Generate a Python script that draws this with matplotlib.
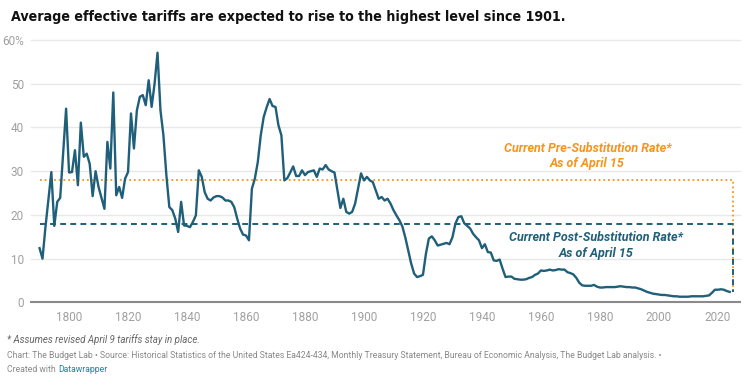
import matplotlib
matplotlib.use("Agg")
import matplotlib.pyplot as plt

plt.rcParams['font.family'] = ['Roboto', 'DejaVu Sans']

years = [1790, 1791, 1792, 1794, 1795, 1796, 1797, 1799, 1800, 1801, 1802, 1803, 1804, 1805,
         1806, 1807, 1808, 1809, 1810, 1812, 1813, 1814, 1815, 1816, 1817, 1818, 1819, 1820,
         1821, 1822, 1823, 1824, 1825, 1826, 1827, 1828, 1829, 1830, 1831, 1832, 1833, 1834,
         1835, 1836, 1837, 1838, 1839, 1840, 1841, 1842, 1843, 1844, 1845, 1846, 1847, 1848,
         1849, 1850, 1851, 1852, 1853, 1854, 1855, 1856, 1857, 1858, 1859, 1860, 1861, 1862,
         1863, 1864, 1865, 1866, 1867, 1868, 1869, 1870, 1871, 1872, 1873, 1874, 1875, 1876,
         1877, 1878, 1879, 1880, 1881, 1882, 1883, 1884, 1885, 1886, 1887, 1888, 1889, 1890,
         1891, 1892, 1893, 1894, 1895, 1896, 1897, 1898, 1899, 1900, 1901, 1902, 1903, 1904,
         1905, 1906, 1907, 1908, 1909, 1910, 1911, 1912, 1913, 1914, 1915, 1916, 1917, 1918,
         1919, 1920, 1921, 1922, 1923, 1924, 1925, 1926, 1927, 1928, 1929, 1930, 1931, 1932,
         1933, 1934, 1935, 1936, 1937, 1938, 1939, 1940, 1941, 1942, 1943, 1944, 1945, 1946,
         1947, 1948, 1949, 1950, 1951, 1952, 1953, 1954, 1955, 1956, 1957, 1958, 1959, 1960,
         1961, 1962, 1963, 1964, 1965, 1966, 1967, 1968, 1969, 1970, 1971, 1972, 1973, 1974,
         1975, 1976, 1977, 1978, 1979, 1980, 1981, 1982, 1983, 1984, 1985, 1986, 1987, 1988,
         1989, 1990, 1991, 1992, 1993, 1994, 1995, 1996, 1997, 1998, 1999, 2000, 2001, 2002,
         2003, 2004, 2005, 2006, 2007, 2008, 2009, 2010, 2011, 2012, 2013, 2014, 2015, 2016,
         2017, 2018, 2019, 2020, 2021, 2022, 2023, 2024]
tariff = [12.4, 10.0, 17.2, 29.8, 17.5, 23.0, 23.9, 44.3, 29.7, 29.8, 34.8, 26.8, 41.1, 33.3,
          34.0, 31.7, 24.3, 30.0, 26.4, 21.4, 36.7, 30.6, 48.0, 24.5, 26.4, 23.9, 28.3, 29.8,
          43.2, 35.2, 43.9, 47.0, 47.4, 45.1, 50.8, 44.7, 50.0, 57.1, 43.9, 38.2, 29.1, 21.8,
          21.1, 19.2, 16.1, 23.0, 17.6, 17.5, 17.2, 18.4, 19.9, 30.2, 28.7, 25.2, 23.7, 23.3,
          24.0, 24.3, 24.3, 24.0, 23.3, 23.3, 23.0, 21.8, 19.2, 16.9, 15.5, 15.3, 14.2, 26.0,
          28.3, 32.1, 38.2, 42.4, 44.6, 46.5, 44.9, 44.7, 40.5, 38.2, 27.9, 28.4, 29.7, 31.1,
          28.9, 28.9, 30.2, 29.1, 29.8, 30.0, 30.2, 28.7, 30.6, 30.4, 31.4, 30.4, 30.0, 29.7,
          25.6, 21.6, 23.7, 20.7, 20.3, 20.7, 22.6, 26.0, 29.5, 27.9, 28.7, 27.9, 27.5, 25.6,
          23.7, 24.1, 23.3, 23.7, 22.6, 21.1, 19.9, 18.8, 17.4, 14.9, 11.9, 8.9, 6.6, 5.8,
          6.0, 6.3, 11.1, 14.6, 15.1, 14.2, 13.0, 13.2, 13.4, 13.6, 13.3, 14.9, 18.0, 19.5,
          19.7, 18.1, 17.5, 16.9, 15.7, 14.9, 14.2, 12.4, 13.3, 11.5, 11.4, 9.6, 9.5, 9.8,
          7.7, 5.8, 5.9, 5.9, 5.4, 5.3, 5.2, 5.2, 5.3, 5.6, 5.8, 6.3, 6.6, 7.3,
          7.2, 7.3, 7.5, 7.3, 7.4, 7.6, 7.5, 7.5, 6.9, 6.7, 6.4, 5.6, 4.5, 3.9,
          3.8, 3.8, 3.8, 4.0, 3.6, 3.4, 3.4, 3.5, 3.5, 3.5, 3.5, 3.6, 3.7, 3.6,
          3.5, 3.5, 3.4, 3.4, 3.2, 3.0, 2.7, 2.4, 2.2, 2.0, 1.9, 1.8, 1.7, 1.7,
          1.6, 1.5, 1.4, 1.4, 1.3, 1.3, 1.3, 1.3, 1.4, 1.4, 1.4, 1.4, 1.4, 1.5,
          1.6, 2.2, 2.9, 2.9, 3.0, 2.9, 2.6, 2.4]

pre_rate = 28.0
post_rate = 18.0
ref_years = [1790, 2025, 2025]
y_ticks = [0, 10, 20, 30, 40, 50, 60]
y_labels = ["0", "10", "20", "30", "40", "50", "60%"]
x_ticks = [1800, 1820, 1840, 1860, 1880, 1900, 1920, 1940, 1960, 1980, 2000, 2020]

LINE = "#1f5f7a"
ORANGE = "#f7941d"

fig = plt.figure(figsize=(7.46, 3.76), dpi=100)
ax = fig.add_axes([31/746, 1 - 302.4/376, (740 - 31)/746, (302.4 - 40)/376])

ax.set_xlim(1787.1, 2027.5)
ax.set_ylim(0, 60)

for yt in y_ticks[1:]:
    ax.axhline(yt, color="#e8e8e8", lw=1.0, zorder=0, clip_on=False)
ax.axhline(0, color="#8a8a8a", lw=1.5, zorder=1, clip_on=False)

ax.plot(ref_years, [pre_rate, pre_rate, tariff[-1]], color=ORANGE, lw=1.3,
        linestyle=(0, (1, 1.6)), zorder=2)
ax.plot(ref_years, [post_rate, post_rate, tariff[-1]], color=LINE, lw=1.4,
        linestyle=(0, (3, 2.2)), zorder=2)
ax.plot(years, tariff, color=LINE, lw=1.7, zorder=3, solid_joinstyle="round")

for s in ax.spines.values():
    s.set_visible(False)

ax.set_yticks(y_ticks)
ax.set_yticklabels(y_labels)
ax.set_xticks(x_ticks)
ax.set_xticklabels([str(x) for x in x_ticks])
ax.tick_params(axis="both", length=0, labelsize=8.5, labelcolor="#a0a0a0")
ax.tick_params(axis="y", pad=5)
ax.tick_params(axis="x", pad=6)

ax.text(1975.8, 33.5, "Current Pre-Substitution Rate*\nAs of April 15", color=ORANGE,
        fontsize=9, fontweight="bold", fontstyle="italic", ha="center", va="center",
        linespacing=1.25)
ax.text(1978.8, 13.0, "Current Post-Substitution Rate*\nAs of April 15", color=LINE,
        fontsize=9, fontweight="bold", fontstyle="italic", ha="center", va="center",
        linespacing=1.25)

fig.text(11/746, 1 - 17/376, "Average effective tariffs are expected to rise to the highest level since 1901.",
         fontsize=10.2, fontweight="bold", color="#111111", ha="left", va="center",
         family=["DejaVu Sans"], fontstretch="condensed")

fig.text(7/746, 1 - 340/376, "* Assumes revised April 9 tariffs stay in place.", fontsize=7,
         fontstyle="italic", color="#666666", ha="left", va="center")
fig.text(7/746, 1 - 356/376,
         "Chart: The Budget Lab \u2022 Source: Historical Statistics of the United States Ea424-434, Monthly Treasury Statement, Bureau of Economic Analysis, The Budget Lab analysis. \u2022",
         fontsize=6.2, color="#888888", ha="left", va="center")
t1 = fig.text(7/746, 1 - 370/376, "Created with ", fontsize=6.2, color="#888888", ha="left", va="center")
fig.canvas.draw()
bb = t1.get_window_extent()
fig.text(bb.x1 / fig.bbox.width, 1 - 370/376, "Datawrapper", fontsize=6.2, color="#1d81a2",
         ha="left", va="center")

fig.savefig("out.png", dpi=100)
